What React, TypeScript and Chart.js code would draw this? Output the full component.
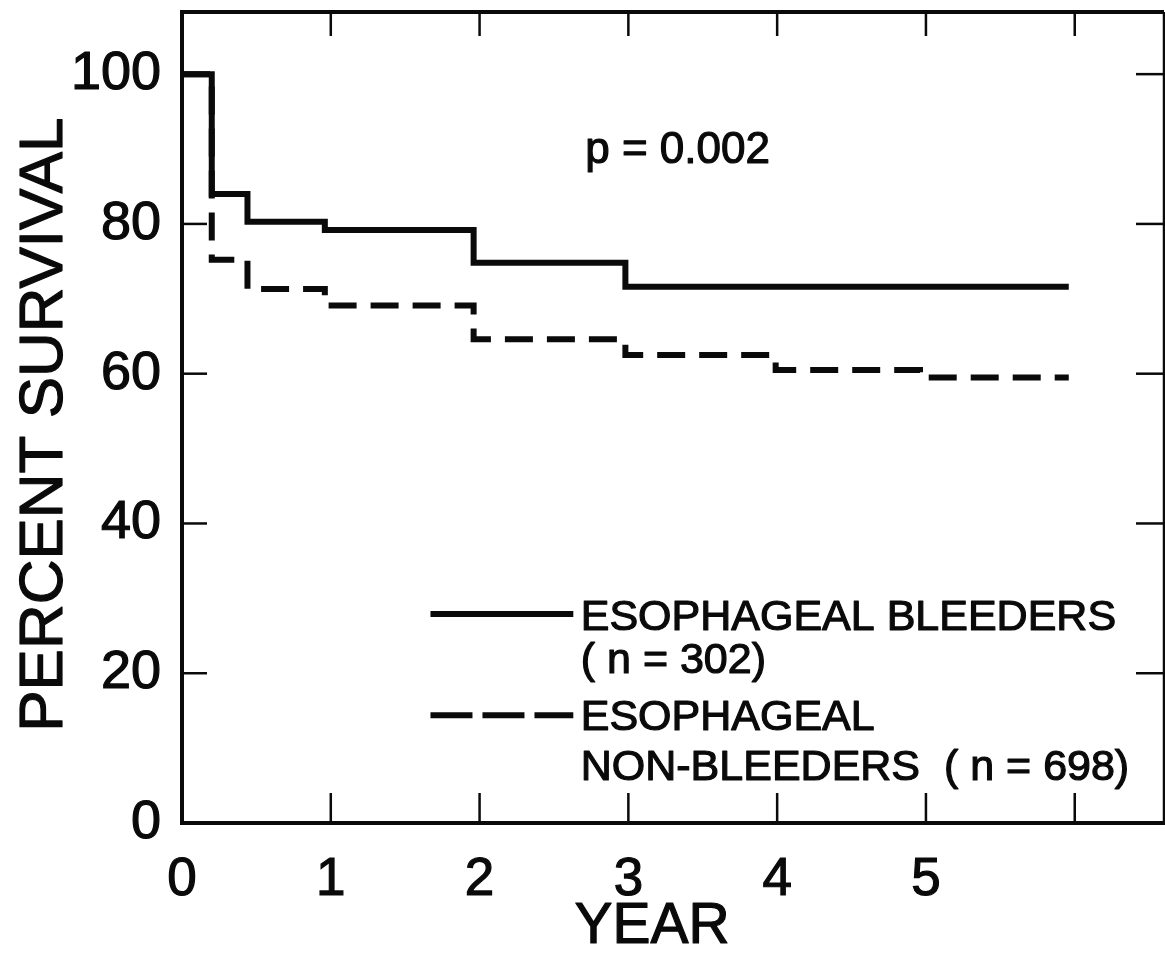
import React, { useEffect, useRef } from "react";
import { Chart, registerables } from "chart.js";

Chart.register(...registerables);

// ---- data ----
const BLEEDER_YEARS = [0, 0.2, 0.44, 0.96, 1.96, 2.98, 5.96];
const BLEEDER_SURVIVAL = [100, 84, 80.3, 79.2, 74.8, 71.6, 71.6];
const NONBLEEDER_YEARS = [0, 0.2, 0.44, 0.96, 1.96, 2.98, 3.99, 4.96, 5.96];
const NONBLEEDER_SURVIVAL = [100, 75.2, 71.3, 69.1, 64.6, 62.5, 60.5, 59.5, 59.5];

const X_TICKS = [0, 1, 2, 3, 4, 5, 6];
const X_TICK_LABELS = ["0", "1", "2", "3", "4", "5", ""];
const Y_TICKS = [0, 20, 40, 60, 80, 100];

const X_TITLE = "YEAR";
const Y_TITLE = "PERCENT SURVIVAL";
const P_VALUE_TEXT = "p = 0.002";
const LEGEND_BLEEDERS = ["ESOPHAGEAL BLEEDERS", "( n = 302)"];
const LEGEND_NONBLEEDERS = ["ESOPHAGEAL", "NON-BLEEDERS  ( n = 698)"];

// ---- layout / style (not data) ----
const W = 1165;
const H = 959;
const FONT = "'Liberation Sans', Arial, Helvetica, sans-serif";
const INK = "#0a0a0a";
const TEXT_STROKE = 1.2;

function boldText(ctx: CanvasRenderingContext2D, text: string, x: number, y: number) {
  ctx.fillText(text, x, y);
  ctx.strokeText(text, x, y);
}

const overlayPlugin = {
  id: "overlay",
  afterDraw(chart: any) {
    const { ctx, chartArea } = chart;
    const xs = chart.scales.x;
    const ys = chart.scales.y;
    const { left, right, top, bottom } = chartArea;
    ctx.save();
    ctx.strokeStyle = INK;
    ctx.fillStyle = INK;
    ctx.lineCap = "butt";

    // top & right frame
    ctx.lineWidth = 4;
    ctx.beginPath();
    ctx.moveTo(left - 2, top);
    ctx.lineTo(right, top);
    ctx.stroke();
    ctx.lineWidth = 2.5;
    ctx.beginPath();
    ctx.moveTo(right, top);
    ctx.lineTo(right, bottom);
    ctx.stroke();

    // inward tick marks
    ctx.lineWidth = 2.5;
    X_TICKS.forEach((v) => {
      if (v === 0) return;
      const px = xs.getPixelForValue(v);
      ctx.beginPath();
      ctx.moveTo(px, bottom);
      ctx.lineTo(px, bottom - 30);
      ctx.stroke();
      ctx.beginPath();
      ctx.moveTo(px, top);
      ctx.lineTo(px, top + 24);
      ctx.stroke();
    });
    Y_TICKS.forEach((v) => {
      if (v === 0) return;
      const py = ys.getPixelForValue(v);
      ctx.beginPath();
      ctx.moveTo(left, py);
      ctx.lineTo(left + 25, py);
      ctx.stroke();
      ctx.beginPath();
      ctx.moveTo(right, py);
      ctx.lineTo(right - 28, py);
      ctx.stroke();
    });

    ctx.lineWidth = TEXT_STROKE;
    ctx.lineJoin = "round";

    // x title
    ctx.font = `57px ${FONT}`;
    ctx.textAlign = "center";
    ctx.textBaseline = "alphabetic";
    boldText(ctx, X_TITLE, xs.getPixelForValue(3.16), 943);

    // y title (rotated)
    ctx.save();
    ctx.translate(62, ys.getPixelForValue(53.2));
    ctx.rotate(-Math.PI / 2);
    ctx.font = `62px ${FONT}`;
    ctx.textAlign = "center";
    ctx.textBaseline = "alphabetic";
    boldText(ctx, Y_TITLE, 0, 0);
    ctx.restore();

    // p value
    ctx.font = `44px ${FONT}`;
    ctx.textAlign = "left";
    boldText(ctx, P_VALUE_TEXT, xs.getPixelForValue(2.71), ys.getPixelForValue(88.2));

    // legend lines
    const lx0 = xs.getPixelForValue(1.67);
    const lx1 = xs.getPixelForValue(2.63);
    ctx.lineWidth = 6;
    ctx.beginPath();
    ctx.moveTo(lx0, ys.getPixelForValue(27.9));
    ctx.lineTo(lx1, ys.getPixelForValue(27.9));
    ctx.stroke();
    ctx.setLineDash([42, 10]);
    ctx.beginPath();
    ctx.moveTo(lx0, ys.getPixelForValue(14.4));
    ctx.lineTo(lx1, ys.getPixelForValue(14.4));
    ctx.stroke();
    ctx.setLineDash([]);

    // legend text
    ctx.lineWidth = TEXT_STROKE;
    const tx = xs.getPixelForValue(2.68);
    ctx.font = `43px ${FONT}`;
    boldText(ctx, LEGEND_BLEEDERS[0], tx, ys.getPixelForValue(25.8));
    boldText(ctx, LEGEND_BLEEDERS[1], tx, ys.getPixelForValue(20.0));
    boldText(ctx, LEGEND_NONBLEEDERS[0], tx, ys.getPixelForValue(12.4));
    boldText(ctx, LEGEND_NONBLEEDERS[1], tx, ys.getPixelForValue(5.7));
    ctx.restore();
  },
};

export default function App() {
  const ref = useRef<HTMLCanvasElement | null>(null);

  useEffect(() => {
    if (!ref.current) return;
    const chart = new Chart(ref.current, {
      type: "line",
      data: {
        datasets: [
          {
            label: "ESOPHAGEAL BLEEDERS (n = 302)",
            data: BLEEDER_YEARS.map((x, i) => ({ x, y: BLEEDER_SURVIVAL[i] })),
            borderColor: INK,
            borderWidth: 6,
            pointRadius: 0,
            stepped: true,
            fill: false,
          },
          {
            label: "ESOPHAGEAL NON-BLEEDERS (n = 698)",
            data: NONBLEEDER_YEARS.map((x, i) => ({ x, y: NONBLEEDER_SURVIVAL[i] })),
            borderColor: INK,
            borderWidth: 6,
            borderDash: [28, 14],
            pointRadius: 0,
            stepped: true,
            fill: false,
          },
        ],
      },
      options: {
        animation: false,
        responsive: false,
        devicePixelRatio: 1,
        layout: { padding: { top: 12, right: 1, left: 0, bottom: 0 } },
        plugins: {
          legend: { display: false },
          tooltip: { enabled: false },
        },
        scales: {
          x: {
            type: "linear",
            min: 0,
            max: 6.6,
            afterBuildTicks: (s: any) => {
              s.ticks = X_TICKS.map((v) => ({ value: v }));
            },
            afterFit: (s: any) => {
              s.height = 136;
              s.paddingLeft = 0;
              s.paddingRight = 0;
            },
            grid: { display: false },
            border: { display: true, color: INK, width: 4 },
            ticks: {
              autoSkip: false,
              maxRotation: 0,
              color: INK,
              textStrokeColor: INK,
              textStrokeWidth: TEXT_STROKE,
              padding: 18,
              font: { family: FONT, size: 53 },
              callback: (_v: any, i: number) => X_TICK_LABELS[i],
            },
          },
          y: {
            type: "linear",
            min: 0,
            max: 108.3,
            afterBuildTicks: (s: any) => {
              s.ticks = Y_TICKS.map((v) => ({ value: v }));
            },
            afterFit: (s: any) => {
              s.width = 182;
              s.paddingTop = 0;
              s.paddingBottom = 0;
            },
            grid: { display: false },
            border: { display: true, color: INK, width: 4 },
            ticks: {
              color: INK,
              textStrokeColor: INK,
              textStrokeWidth: TEXT_STROKE,
              padding: 13,
              font: { family: FONT, size: 54 },
              callback: (v: any) => String(v),
            },
          },
        },
      },
      plugins: [overlayPlugin],
    });
    return () => chart.destroy();
  }, []);

  return (
    <div style={{ position: "absolute", left: 0, top: 0, width: W, height: H, background: "#fff" }}>
      <canvas ref={ref} width={W} height={H} style={{ display: "block" }} />
    </div>
  );
}
